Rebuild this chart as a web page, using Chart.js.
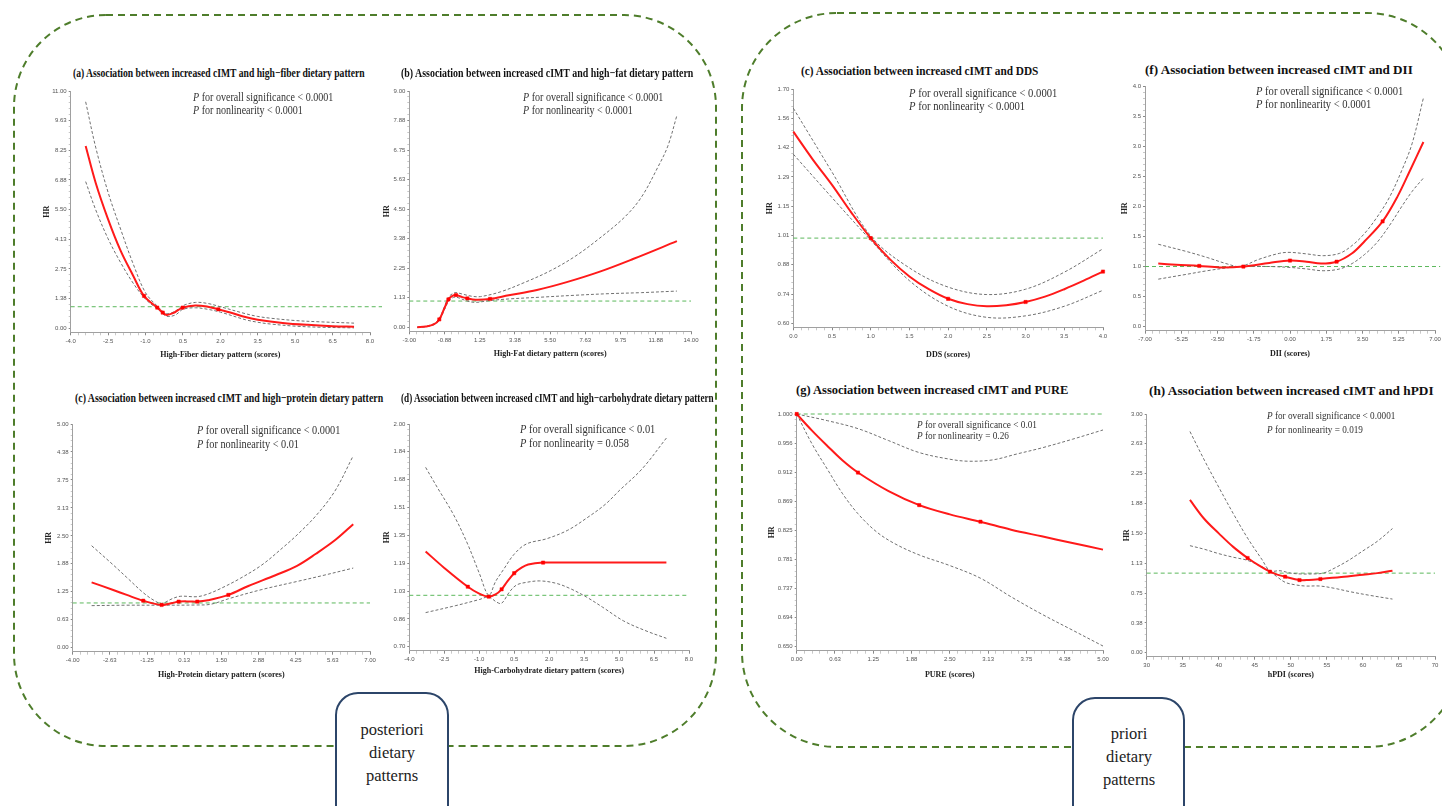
<!DOCTYPE html>
<html><head><meta charset="utf-8">
<script src="https://cdn.jsdelivr.net/npm/chart.js@4.4.1/dist/chart.umd.min.js"></script>
<style>
html,body{margin:0;padding:0;background:#fff;width:1442px;height:806px;overflow:hidden;}
body{position:relative;}
canvas.p{position:absolute;}
svg.bg{position:absolute;left:0;top:0;}
.t{position:absolute;white-space:nowrap;font-family:"Liberation Serif","Times New Roman",serif;}
.title{font-weight:bold;font-size:12.5px;color:#111;transform-origin:0 50%;line-height:14px;}
.ann{color:#333;transform-origin:0 0;}
.lbl{font-size:16.5px;color:#222;text-align:center;line-height:23px;width:112px;}
</style></head><body>
<svg class="bg" width="1442" height="806">
<rect x="14" y="15" width="702" height="731" rx="92" fill="none" stroke="#4e7d2b" stroke-width="2" stroke-dasharray="7 5"/>
<rect x="742" y="13" width="720" height="734" rx="95" fill="none" stroke="#4e7d2b" stroke-width="2" stroke-dasharray="7 5"/>
<rect x="336" y="693" width="112" height="140" rx="22" fill="#fff" stroke="#2c4569" stroke-width="2"/>
<rect x="1073" y="698" width="111" height="140" rx="22" fill="#fff" stroke="#2c4569" stroke-width="2"/>
</svg>
<div class="t lbl" style="left:336px;top:718px;">posteriori<br>dietary<br>patterns</div>
<div class="t lbl" style="left:1073px;top:722px;">priori<br>dietary<br>patterns</div>
<script>
// ---------- (a) high-fiber ----------
const aFitX = [-3.4,-3.0,-2.5,-2.0,-1.5,-1.06,-0.53,-0.31,-0.15,0.1,0.49,1.0,1.5,1.92,2.5,3.0,3.5,4.5,5.5,6.5,7.36];
const aFitY = [8.45,6.75,5.05,3.6,2.45,1.5,0.96,0.73,0.62,0.7,0.96,1.06,1.0,0.88,0.7,0.52,0.4,0.25,0.16,0.1,0.07];
const aUpX = [-3.4,-3.0,-2.5,-2.0,-1.5,-1.0,-0.5,-0.15,0.2,0.5,1.0,1.5,2.0,3.0,3.5,4.0,5.0,6.0,7.36];
const aUpY = [10.5,8.4,6.3,4.6,3.0,1.65,1.0,0.68,0.8,1.05,1.2,1.15,1.0,0.68,0.55,0.47,0.36,0.3,0.24];
const aLoX = [-3.4,-3.0,-2.5,-2.0,-1.5,-1.0,-0.5,-0.15,0.2,0.5,1.0,1.5,2.0,3.0,3.5,4.0,5.0,6.0,7.36];
const aLoY = [6.8,5.5,4.15,3.05,2.1,1.35,0.88,0.56,0.62,0.88,0.95,0.88,0.75,0.4,0.28,0.2,0.1,0.05,0.02];
const aKnotX = [-1.06,-0.53,-0.31,0.49,1.92];
const aKnotY = [1.5,0.96,0.73,0.96,0.88];
const aTickX = [-4.0,-2.5,-1.0,0.5,2.0,3.5,5.0,6.5,8.0];
const aTickXLabels = ['-4.0','-2.5','-1.0','0.5','2.0','3.5','5.0','6.5','8.0'];
const aTickY = [0,1.375,2.75,4.125,5.5,6.875,8.25,9.625,11];
const aTickYLabels = ['0.00','1.38','2.75','4.13','5.50','6.88','8.25','9.63','11.00'];

// ---------- (b) high-fat ----------
const bFitX = [-2.52,-2.0,-1.5,-1.19,-0.9,-0.64,-0.4,-0.18,0.2,0.5,1.0,1.87,3.0,4.7,6.5,8.5,10.5,13.15];
const bFitY = [0.0,0.03,0.12,0.3,0.7,1.06,1.2,1.23,1.15,1.1,1.05,1.08,1.22,1.42,1.72,2.12,2.6,3.28];
const bUpX = [-2.52,-2.0,-1.5,-1.19,-0.9,-0.64,-0.4,-0.18,0.3,0.8,1.3,2.5,4.0,5.5,7.0,8.5,10.0,11.0,12.0,12.6,13.15];
const bUpY = [0.0,0.04,0.14,0.33,0.76,1.14,1.28,1.32,1.25,1.18,1.17,1.35,1.72,2.15,2.7,3.4,4.2,4.95,6.1,6.9,8.07];
const bLoX = [-2.52,-2.0,-1.5,-1.19,-0.9,-0.64,-0.4,-0.18,0.5,1.0,1.87,3.0,5.0,7.0,9.0,11.0,13.15];
const bLoY = [0.0,0.02,0.1,0.27,0.64,0.98,1.12,1.15,1.0,0.95,1.02,1.08,1.15,1.22,1.28,1.32,1.38];
const bKnotX = [-1.19,-0.64,-0.18,0.5,1.87];
const bKnotY = [0.3,1.06,1.23,1.1,1.08];
const bTickX = [-3,-0.875,1.25,3.375,5.5,7.625,9.75,11.875,14];
const bTickXLabels = ['-3.00','-0.88','1.25','3.38','5.50','7.63','9.75','11.88','14.00'];
const bTickY = [0,1.125,2.25,3.375,4.5,5.625,6.75,7.875,9];
const bTickYLabels = ['0.00','1.13','2.25','3.38','4.50','5.63','6.75','7.88','9.00'];

// ---------- (c) DDS ----------
const eFitX = [0,0.25,0.5,0.75,1.0,1.25,1.5,1.75,2.0,2.25,2.5,2.75,3.0,3.25,3.5,3.75,4.0];
const eFitY = [1.5,1.37,1.25,1.12,1.0,0.9,0.82,0.76,0.715,0.69,0.68,0.685,0.70,0.725,0.76,0.8,0.843];
const eUpX = [0,0.5,1.0,1.5,2.0,2.5,3.0,3.5,4.0];
const eUpY = [1.61,1.31,1.01,0.86,0.77,0.735,0.76,0.84,0.95];
const eLoX = [0,0.5,1.0,1.5,2.0,2.5,3.0,3.5,4.0];
const eLoY = [1.394,1.19,0.99,0.8,0.68,0.628,0.635,0.68,0.755];
const eKnotX = [1.0,2.0,3.0,4.0];
const eKnotY = [1.0,0.715,0.70,0.843];
const eTickX = [0,0.5,1.0,1.5,2.0,2.5,3.0,3.5,4.0];
const eTickXLabels = ['0.0','0.5','1.0','1.5','2.0','2.5','3.0','3.5','4.0'];
const eTickY = [0.6,0.7375,0.875,1.0125,1.15,1.2875,1.425,1.5625,1.7];
const eTickYLabels = ['0.60','0.74','0.88','1.01','1.15','1.29','1.42','1.56','1.70'];

// ---------- (f) DII ----------
const fFitX = [-6.36,-5.5,-4.38,-3.38,-2.25,-1.0,0,0.8,1.5,2.25,3.0,3.6,4.47,5.2,5.8,6.44];
const fFitY = [1.05,1.03,1.01,0.985,1.0,1.06,1.1,1.08,1.05,1.08,1.22,1.42,1.75,2.17,2.6,3.07];
const fUpX = [-6.36,-5,-4,-3,-2.4,-1.5,-0.5,0,0.8,1.6,2.4,3.0,3.6,4.2,4.8,5.4,5.9,6.44];
const fUpY = [1.37,1.25,1.15,1.04,1.0,1.12,1.22,1.235,1.21,1.18,1.22,1.35,1.55,1.82,2.15,2.6,3.05,3.8];
const fLoX = [-6.36,-5,-4,-3,-2.4,-1,0,0.8,1.6,2.4,3.0,3.6,4.2,4.8,5.4,5.9,6.44];
const fLoY = [0.79,0.87,0.93,0.98,1.0,1.0,0.985,0.96,0.93,0.96,1.05,1.2,1.4,1.68,2.0,2.25,2.47];
const fKnotX = [-4.38,-2.25,0.0,2.25,4.47];
const fKnotY = [1.01,1.0,1.1,1.08,1.75];
const fTickX = [-7,-5.25,-3.5,-1.75,0,1.75,3.5,5.25,7];
const fTickXLabels = ['-7.00','-5.25','-3.50','-1.75','0.00','1.75','3.50','5.25','7.00'];
const fTickY = [0,0.5,1.0,1.5,2.0,2.5,3.0,3.5,4.0];
const fTickYLabels = ['0.0','0.5','1.0','1.5','2.0','2.5','3.0','3.5','4.0'];

// ---------- (c) high-protein ----------
const pFitX = [-3.3,-2.5,-2.0,-1.39,-0.71,-0.3,-0.08,0.3,0.61,1.0,1.76,2.5,3.5,4.3,5.0,5.7,6.38];
const pFitY = [1.46,1.29,1.18,1.05,0.955,1.0,1.03,1.035,1.03,1.06,1.18,1.38,1.62,1.83,2.1,2.4,2.76];
const pUpX = [-3.3,-2.5,-2.0,-1.39,-1.0,-0.71,-0.3,0,0.6,1.0,1.5,2.2,3.0,3.8,4.3,5.0,5.7,6.38];
const pUpY = [2.28,1.85,1.57,1.23,1.06,0.99,1.1,1.15,1.14,1.2,1.33,1.55,1.85,2.25,2.52,2.95,3.5,4.29];
const pLoX = [-3.3,-2.0,-0.71,0.6,1.1,1.8,3.0,4.3,5.3,6.38];
const pLoY = [0.94,0.95,0.95,0.955,0.97,1.1,1.3,1.48,1.62,1.78];
const pKnotX = [-1.39,-0.71,-0.08,0.61,1.76];
const pKnotY = [1.05,0.955,1.03,1.03,1.18];
const pTickX = [-4,-2.625,-1.25,0.125,1.5,2.875,4.25,5.625,7];
const pTickXLabels = ['-4.00','-2.63','-1.25','0.13','1.50','2.88','4.25','5.63','7.00'];
const pTickY = [0,0.625,1.25,1.875,2.5,3.125,3.75,4.375,5];
const pTickYLabels = ['0.00','0.63','1.25','1.88','2.50','3.13','3.75','4.38','5.00'];

// ---------- (d) high-carbohydrate ----------
const dFitX = [-3.3,-2.5,-1.49,-1.0,-0.59,-0.3,-0.04,0.2,0.5,0.8,1.1,1.74,3.0,5.0,7.03];
const dFitY = [1.256,1.16,1.05,1.01,0.992,1.005,1.035,1.08,1.129,1.16,1.18,1.191,1.191,1.191,1.191];
const dUpX = [-3.3,-2.8,-2.1,-1.5,-1.0,-0.59,-0.3,0.03,0.5,1.03,1.89,2.8,3.6,4.4,5.0,6.0,7.03];
const dUpY = [1.747,1.63,1.47,1.3,1.13,1.0,1.08,1.148,1.24,1.30,1.33,1.38,1.45,1.53,1.61,1.74,1.918];
const dLoX = [-3.3,-2.0,-1.0,-0.59,-0.25,-0.04,0.3,0.6,1.0,1.6,2.3,2.89,3.6,4.3,5.2,6.2,7.03];
const dLoY = [0.899,0.94,0.975,0.99,0.96,0.953,1.02,1.06,1.075,1.084,1.07,1.04,0.99,0.93,0.85,0.79,0.749];
const dKnotX = [-1.49,-0.59,-0.04,0.5,1.74];
const dKnotY = [1.05,0.992,1.035,1.129,1.191];
const dTickX = [-4,-2.5,-1,0.5,2,3.5,5,6.5,8];
const dTickXLabels = ['-4.0','-2.5','-1.0','0.5','2.0','3.5','5.0','6.5','8.0'];
const dTickY = [0.7,0.8625,1.025,1.1875,1.35,1.5125,1.675,1.8375,2.0];
const dTickYLabels = ['0.70','0.86','1.03','1.19','1.35','1.51','1.68','1.84','2.00'];

// ---------- (g) PURE ----------
const gFitX = [0,0.25,0.5,0.75,1.0,1.5,2.0,2.5,3.0,3.5,4.0,4.5,5.0];
const gFitY = [1.0,0.975,0.952,0.93,0.912,0.884,0.863,0.849,0.838,0.826,0.816,0.806,0.796];
const gUpX = [0,0.5,1.0,1.5,2.0,2.5,2.8,3.2,3.6,4.0,4.5,5.0];
const gUpY = [1.0,0.99,0.978,0.96,0.942,0.932,0.929,0.931,0.94,0.949,0.962,0.976];
const gLoX = [0,0.25,0.5,0.75,1.0,1.3,1.6,2.0,2.5,3.0,3.5,4.0,4.5,5.0];
const gLoY = [1.0,0.955,0.917,0.88,0.85,0.823,0.805,0.788,0.772,0.753,0.725,0.699,0.675,0.651];
const gKnotX = [0,1.0,2.0,3.0];
const gKnotY = [1.0,0.912,0.863,0.838];
const gTickX = [0,0.625,1.25,1.875,2.5,3.125,3.75,4.375,5];
const gTickXLabels = ['0.00','0.63','1.25','1.88','2.50','3.13','3.75','4.38','5.00'];
const gTickY = [0.65,0.69375,0.7375,0.78125,0.825,0.86875,0.9125,0.95625,1.0];
const gTickYLabels = ['0.650','0.694','0.737','0.781','0.825','0.869','0.912','0.956','1.000'];

// ---------- (h) hPDI ----------
const hFitX = [36,38,40,42,44,45.5,47.1,48,49.2,51.2,52.5,54.1,57,60,62,64.1];
const hFitY = [1.92,1.68,1.5,1.33,1.19,1.1,1.018,0.985,0.955,0.913,0.915,0.926,0.95,0.98,1.0,1.03];
const hUpX = [36,38,40,42,44,46,47.1,48.5,50,51.3,53,54.5,56,58,60,62,64.1];
const hUpY = [2.78,2.42,2.08,1.75,1.44,1.17,1.03,1.03,1.0,0.99,0.99,1.0,1.06,1.16,1.28,1.4,1.56];
const hLoX = [36,38,40,42,44,46,47.1,48,49.2,50.5,52,54,56,58.2,61,64.1];
const hLoY = [1.345,1.3,1.245,1.2,1.16,1.08,1.02,0.96,0.885,0.855,0.838,0.838,0.81,0.767,0.72,0.674];
const hKnotX = [44,47.1,49.2,51.2,54.1];
const hKnotY = [1.19,1.018,0.955,0.913,0.926];
const hTickX = [30,35,40,45,50,55,60,65,70];
const hTickXLabels = ['30','35','40','45','50','55','60','65','70'];
const hTickY = [0,0.375,0.75,1.125,1.5,1.875,2.25,2.625,3.0];
const hTickYLabels = ['0.00','0.38','0.75','1.13','1.50','1.88','2.25','2.63','3.00'];

const titles = [
 '(a) Association between increased cIMT and high\u2212fiber dietary pattern',
 '(b) Association between increased cIMT and high\u2212fat dietary pattern',
 '(c) Association between increased cIMT and DDS',
 '(f) Association between increased cIMT and DII',
 '(c) Association between increased cIMT and high\u2212protein dietary pattern',
 '(d) Association between increased cIMT and high\u2212carbohydrate dietary pattern',
 '(g) Association between increased cIMT and PURE',
 '(h) Association between increased cIMT and hPDI'
];
const xTitles = ['High-Fiber dietary pattern (scores)','High-Fat dietary pattern (scores)','DDS (scores)','DII (scores)',
 'High-Protein dietary pattern (scores)','High-Carbohydrate dietary pattern (scores)','PURE (scores)','hPDI (scores)'];
const pOverall = ['< 0.0001','< 0.0001','< 0.0001','< 0.0001','< 0.0001','< 0.01','< 0.01','< 0.0001'];
const pNonlin = ['< 0.0001','< 0.0001','< 0.0001','< 0.0001','< 0.01','= 0.058','= 0.26','= 0.019'];

const zip = (xs, ys) => xs.map((x, i) => ({x, y: ys[i]}));

// layout (pixel geometry only)
const L = [
 {L:70.7,R:370,T:90.7,B:332.3,xt:355,hr:47, tl:73,tr:365,ty:72.7, ax:193.3,ay:97.3,aw:140,af:12,alh:13.4, rx:3},
 {L:409.3,R:690.7,T:90.7,B:331.3,xt:354,hr:386.7, tl:401,tr:693,ty:73.3, ax:523.3,ay:97.3,aw:140,af:12,alh:13.4, rx:0},
 {L:793.3,R:1103.3,T:89.3,B:327.3,xt:355,hr:770, tl:800.7,tr:1038.3,ty:70.7, ax:909.3,ay:93.3,aw:148,af:12,alh:13.4, rx:0},
 {L:1145,R:1435,T:86,B:330.7,xt:354,hr:1125, tl:1145,tr:1412.7,ty:70, ax:1255.7,ay:91.7,aw:147,af:12,alh:13.4, rx:0.25},
 {L:72.7,R:370,T:424.3,B:651.7,xt:675,hr:49, tl:75,tr:383,ty:397.7, ax:196.7,ay:430,aw:143,af:12,alh:14.3, rx:0},
 {L:409.3,R:689.3,T:424.3,B:650.7,xt:671,hr:387, tl:400.7,tr:713.3,ty:398.3, ax:520,ay:429,aw:135,af:12,alh:14.3, rx:0},
 {L:796.7,R:1102.7,T:414,B:650.7,xt:675,hr:771.7, tl:796,tr:1068,ty:390, ax:916.7,ay:424,aw:120,af:10.5,alh:11, rx:0},
 {L:1146.7,R:1435,T:414,B:656.7,xt:675,hr:1126.7, tl:1149,tr:1434,ty:391, ax:1266.7,ay:416,aw:128,af:11,alh:13.3, rx:0}
];

const panels = [
 {fx:aFitX,fy:aFitY,ux:aUpX,uy:aUpY,lx:aLoX,ly:aLoY,kx:aKnotX,ky:aKnotY,tx:aTickX,txl:aTickXLabels,ty:aTickY,tyl:aTickYLabels},
 {fx:bFitX,fy:bFitY,ux:bUpX,uy:bUpY,lx:bLoX,ly:bLoY,kx:bKnotX,ky:bKnotY,tx:bTickX,txl:bTickXLabels,ty:bTickY,tyl:bTickYLabels},
 {fx:eFitX,fy:eFitY,ux:eUpX,uy:eUpY,lx:eLoX,ly:eLoY,kx:eKnotX,ky:eKnotY,tx:eTickX,txl:eTickXLabels,ty:eTickY,tyl:eTickYLabels},
 {fx:fFitX,fy:fFitY,ux:fUpX,uy:fUpY,lx:fLoX,ly:fLoY,kx:fKnotX,ky:fKnotY,tx:fTickX,txl:fTickXLabels,ty:fTickY,tyl:fTickYLabels},
 {fx:pFitX,fy:pFitY,ux:pUpX,uy:pUpY,lx:pLoX,ly:pLoY,kx:pKnotX,ky:pKnotY,tx:pTickX,txl:pTickXLabels,ty:pTickY,tyl:pTickYLabels},
 {fx:dFitX,fy:dFitY,ux:dUpX,uy:dUpY,lx:dLoX,ly:dLoY,kx:dKnotX,ky:dKnotY,tx:dTickX,txl:dTickXLabels,ty:dTickY,tyl:dTickYLabels},
 {fx:gFitX,fy:gFitY,ux:gUpX,uy:gUpY,lx:gLoX,ly:gLoY,kx:gKnotX,ky:gKnotY,tx:gTickX,txl:gTickXLabels,ty:gTickY,tyl:gTickYLabels},
 {fx:hFitX,fy:hFitY,ux:hUpX,uy:hUpY,lx:hLoX,ly:hLoY,kx:hKnotX,ky:hKnotY,tx:hTickX,txl:hTickXLabels,ty:hTickY,tyl:hTickYLabels}
];

function withMinor(major){
  const out = [];
  for (let i = 0; i < major.length; i++) {
    out.push(major[i]);
    if (i < major.length - 1) {
      const s = (major[i+1] - major[i]) / 5;
      for (let k = 1; k < 5; k++) out.push(major[i] + s * k);
    }
  }
  return out;
}
function labelFor(ticks, labels){
  return v => { const i = ticks.findIndex(t => Math.abs(t - v) < 1e-9); return i >= 0 ? labels[i] : ''; };
}
function isMajor(ticks, v){ return ticks.some(t => Math.abs(t - v) < 1e-9); }

function makePanel(idx){
  const g = L[idx], d = panels[idx];
  const padTop = 8, padRight = 14, lh = 8 * 1.2;
  const left = Math.round(g.hr - lh / 2), top = Math.round(g.T - padTop);
  const yw = g.L - left;
  const W = Math.round(g.R + padRight - left);
  const H = Math.round(g.xt + lh / 2 - top);
  const xh = H - (g.B - top);
  const cv = document.createElement('canvas');
  cv.className = 'p'; cv.width = W; cv.height = H;
  cv.style.left = left + 'px'; cv.style.top = top + 'px';
  cv.style.width = W + 'px'; cv.style.height = H + 'px';
  document.body.appendChild(cv);
  const xmin = d.tx[0], xmax = d.tx[d.tx.length - 1];
  const y0 = d.ty[0], yN = d.ty[d.ty.length - 1];
  const ymin = y0 - (yN - y0) * 4 / (g.B - 4 - g.T);
  const xAll = withMinor(d.tx), yAll = withMinor(d.ty);
  const gray = '#707070';
  const smooth = {tension:0.35, cubicInterpolationMode:'default'};
  new Chart(cv, {
    type: 'line',
    data: { datasets: [
      {data: zip(d.kx, d.ky), showLine:false, pointStyle:'rect', pointRadius:2.3, pointBackgroundColor:'#ff0000', pointBorderColor:'#ff0000', pointBorderWidth:0.5, order:0},
      Object.assign({data: zip(d.fx, d.fy), borderColor:'#ff1a1a', borderWidth:2, pointRadius:0, order:1}, smooth),
      Object.assign({data: zip(d.ux, d.uy), borderColor:gray, borderWidth:1, borderDash:[3,2], pointRadius:0, order:2}, smooth),
      Object.assign({data: zip(d.lx, d.ly), borderColor:gray, borderWidth:1, borderDash:[3,2], pointRadius:0, order:2}, smooth),
      {data: [{x:xmin,y:1},{x:xmax + g.rx,y:1}], borderColor:'#5cb85c', borderWidth:1, borderDash:[4,3], pointRadius:0, order:3, clip:{left:4,top:4,bottom:4,right:12}}
    ]},
    options: {
      responsive:false, animation:false, clip:4,
      layout:{padding:{left:0, top:padTop, right:padRight, bottom:0}},
      plugins:{legend:{display:false}, tooltip:{enabled:false}},
      scales:{
        x:{type:'linear', min:xmin, max:xmax,
          afterBuildTicks: s => { s.ticks = xAll.map(v => ({value:v})); },
          afterFit: s => { s.height = xh; s.paddingLeft = 0; s.paddingRight = 0; },
          ticks:{autoSkip:false, maxRotation:0, minRotation:0, padding:2, color:'#555',
            font:{size:6, family:'Liberation Sans'}, callback: labelFor(d.tx, d.txl)},
          grid:{display:true, drawOnChartArea:false, drawTicks:true, tickLength:3,
            tickColor: c => isMajor(d.tx, c.tick ? c.tick.value : NaN) ? '#888' : '#c8c8c8'},
          border:{display:true, color:'#a0a0a0', width:1},
          title:{display:true, text:xTitles[idx], color:'#222', padding:0,
            font:{family:'Liberation Serif', weight:'bold', size:8}}
        },
        y:{type:'linear', min:ymin, max:yN,
          afterBuildTicks: s => { s.ticks = yAll.map(v => ({value:v})); },
          afterFit: s => { s.width = yw; s.paddingTop = 0; s.paddingBottom = 0; },
          ticks:{autoSkip:false, padding:2, color:'#555',
            font:{size:6, family:'Liberation Sans'}, callback: labelFor(d.ty, d.tyl)},
          grid:{display:true, drawOnChartArea:false, drawTicks:true, tickLength:2,
            tickColor: c => isMajor(d.ty, c.tick ? c.tick.value : NaN) ? '#888' : '#c8c8c8'},
          border:{display:true, color:'#a0a0a0', width:1},
          title:{display:true, text:'HR', color:'#222', padding:0,
            font:{family:'Liberation Serif', weight:'bold', size:8}}
        }
      }
    }
  });

  // title
  const t = document.createElement('div');
  t.className = 't title'; t.textContent = titles[idx];
  document.body.appendChild(t);
  const tw = t.offsetWidth;
  t.style.left = g.tl + 'px'; t.style.top = (g.ty - 7) + 'px';
  t.style.transform = 'scaleX(' + ((g.tr - g.tl) / tw) + ')';

  // annotation
  const a = document.createElement('div');
  a.className = 't ann';
  a.style.fontSize = g.af + 'px'; a.style.lineHeight = g.alh + 'px';
  a.innerHTML = '<span class="l1"><i>P</i> for overall significance ' + pOverall[idx].replace('<','&lt;') +
    '</span><br><span><i>P</i> for nonlinearity ' + pNonlin[idx].replace('<','&lt;') + '</span>';
  document.body.appendChild(a);
  const w1 = a.querySelector('.l1').offsetWidth;
  a.style.left = g.ax + 'px'; a.style.top = (g.ay - g.alh / 2) + 'px';
  a.style.transform = 'scaleX(' + (g.aw / w1) + ')';
}
for (let i = 0; i < 8; i++) makePanel(i);
</script>
</body></html>
